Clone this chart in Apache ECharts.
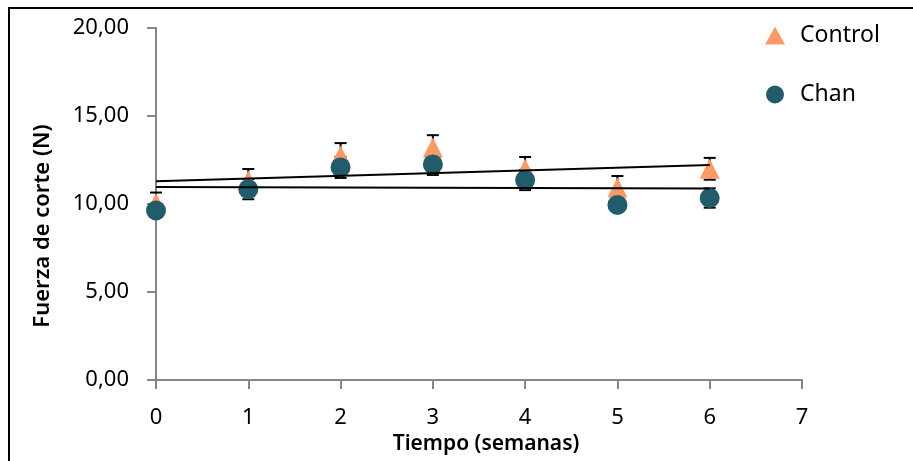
<!DOCTYPE html>
<html>
<head>
<meta charset="utf-8">
<script src="https://cdn.jsdelivr.net/npm/echarts@6/dist/echarts.min.js"></script>
<style>
html, body { margin: 0; padding: 0; background: #fff; }
#chart { width: 913px; height: 461px; }
</style>
</head>
<body>
<div id="chart"></div>
<script>
// semanas
const weeks = [0, 1, 2, 3, 4, 5, 6];
// fuerza de corte (N)
const controlMean = [10.05, 11.33, 12.76, 13.21, 12.0, 10.94, 12.0];
const controlErr = [0.6, 0.66, 0.7, 0.7, 0.67, 0.65, 0.62];
const chanMean = [9.63, 10.84, 12.08, 12.25, 11.36, 9.95, 10.34];
const chanErr = [0.3, 0.57, 0.6, 0.6, 0.57, 0.3, 0.55];
const yTicks = ['0,00', '5,00', '10,00', '15,00', '20,00'];

const font = '"Noto Sans", "Open Sans", sans-serif';
const orange = '#FB9A66';
const teal = '#225B6A';

function linFit(xs, ys) {
    const n = xs.length;
    const mx = xs.reduce((a, b) => a + b, 0) / n;
    const my = ys.reduce((a, b) => a + b, 0) / n;
    let sxy = 0, sxx = 0;
    xs.forEach((x, i) => {
        sxy += (x - mx) * (ys[i] - my);
        sxx += (x - mx) * (x - mx);
    });
    const b = sxy / sxx;
    const a = my - b * mx;
    const x0 = xs[0], x1 = xs[n - 1];
    return [[x0, a + b * x0], [x1, a + b * x1]];
}

function errData(mean, err) {
    return weeks.map((w, i) => [w, mean[i] - err[i], mean[i] + err[i]]);
}

function renderErr(params, api) {
    const lo = api.coord([api.value(0), api.value(1)]);
    const hi = api.coord([api.value(0), api.value(2)]);
    const half = 6;
    const style = { stroke: '#000', lineWidth: 2 };
    return {
        type: 'group',
        children: [
            { type: 'line', shape: { x1: hi[0], y1: hi[1], x2: lo[0], y2: lo[1] }, style: style },
            { type: 'line', shape: { x1: hi[0] - half, y1: hi[1], x2: hi[0] + half, y2: hi[1] }, style: style },
            { type: 'line', shape: { x1: lo[0] - half, y1: lo[1], x2: lo[0] + half, y2: lo[1] }, style: style }
        ]
    };
}

const chart = echarts.init(document.getElementById('chart'));
chart.setOption({
    animation: false,
    textStyle: { fontFamily: font },
    graphic: [
        {
            type: 'rect',
            shape: { x: 9, y: 8, width: 1000, height: 600 },
            style: { fill: 'none', stroke: '#000', lineWidth: 2 },
            silent: true
        }
    ],
    grid: { left: 156, right: 111, top: 28, bottom: 81, outerBoundsMode: 'none', containLabel: false },
    legend: {
        orient: 'vertical',
        left: 760,
        top: 19,
        itemGap: 36,
        itemWidth: 20,
        itemHeight: 18,
        textStyle: { fontFamily: font, fontSize: 23, color: '#000', padding: [0, 0, 0, 10] },
        data: [
            { name: 'Control', icon: 'triangle' },
            { name: 'Chan', icon: 'circle' }
        ]
    },
    xAxis: {
        type: 'value',
        min: 0,
        max: 7,
        interval: 1,
        name: 'Tiempo (semanas)',
        nameLocation: 'center',
        nameGap: 54,
        nameTextStyle: { fontFamily: font, fontSize: 21, fontWeight: 600, color: '#000', padding: [0, 0, 0, 14] },
        axisLine: { lineStyle: { color: '#868686', width: 2 } },
        axisTick: { show: true, length: 9, lineStyle: { color: '#868686', width: 2 } },
        axisLabel: { fontFamily: font, fontSize: 22, color: '#000', margin: 27 },
        splitLine: { show: false }
    },
    yAxis: {
        type: 'value',
        min: 0,
        max: 20,
        interval: 5,
        name: 'Fuerza de corte (N)',
        nameLocation: 'center',
        nameGap: 102,
        nameTextStyle: { fontFamily: font, fontSize: 22, fontWeight: 600, color: '#000', padding: [0, 44, 0, 0] },
        axisLine: { show: true, lineStyle: { color: '#868686', width: 2 } },
        axisTick: { show: true, length: 9, lineStyle: { color: '#868686', width: 2 } },
        axisLabel: {
            fontFamily: font,
            fontSize: 22,
            color: '#000',
            margin: 27,
            formatter: v => yTicks[v / 5]
        },
        splitLine: { show: false }
    },
    series: [
        {
            name: 'Control err',
            type: 'custom',
            renderItem: renderErr,
            data: errData(controlMean, controlErr),
            z: 1,
            silent: true
        },
        {
            name: 'Chan err',
            type: 'custom',
            renderItem: renderErr,
            data: errData(chanMean, chanErr),
            z: 1,
            silent: true
        },
        {
            name: 'Control',
            type: 'scatter',
            symbol: 'triangle',
            symbolSize: [20, 20],
            itemStyle: { color: orange, opacity: 1 },
            data: weeks.map((w, i) => [w, controlMean[i]]),
            z: 2
        },
        {
            name: 'Chan',
            type: 'scatter',
            symbol: 'circle',
            symbolSize: 20,
            itemStyle: { color: teal, opacity: 1 },
            data: weeks.map((w, i) => [w, chanMean[i]]),
            z: 3
        },
        {
            name: 'trend Control',
            type: 'line',
            showSymbol: false,
            symbol: 'none',
            lineStyle: { color: '#000', width: 2 },
            data: linFit(weeks, controlMean),
            z: 4
        },
        {
            name: 'trend Chan',
            type: 'line',
            showSymbol: false,
            symbol: 'none',
            lineStyle: { color: '#000', width: 2 },
            data: linFit(weeks, chanMean),
            z: 4
        }
    ]
});
</script>
</body>
</html>
